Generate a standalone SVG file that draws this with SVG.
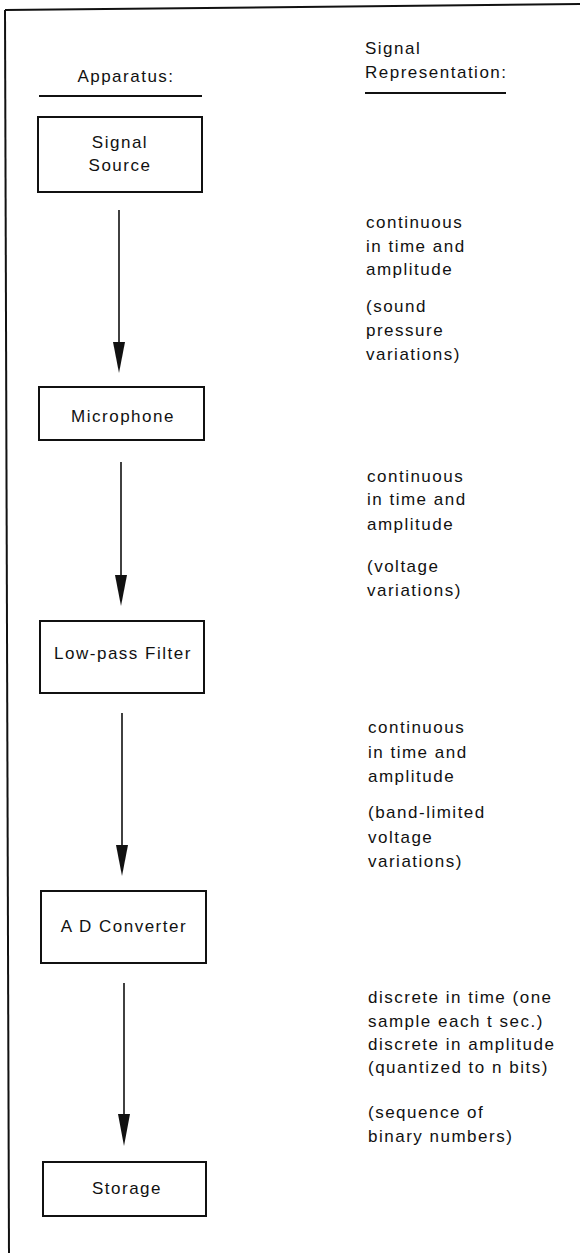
<svg xmlns="http://www.w3.org/2000/svg" width="580" height="1253" viewBox="0 0 580 1253">
<defs>
<style>
text{font-family:"Liberation Sans",Arial,sans-serif;font-size:17px;letter-spacing:1.5px;fill:#111}
.c{text-anchor:middle}
.box{fill:none;stroke:#111;stroke-width:2}
.ln{stroke:#111;stroke-width:2;fill:none}
.sh{stroke:#111;stroke-width:1.6;fill:none}
</style>
<marker id="ah" markerUnits="userSpaceOnUse" markerWidth="14" markerHeight="34" refX="6" refY="32" orient="auto-start-reverse" viewBox="0 0 12 32">
<path d="M0,0 L12,0 L6,32 Z" fill="#111"/>
</marker>
</defs>
<rect width="580" height="1253" fill="#fff"/>
<g id="frame">
<path class="ln" d="M5,10 L580,4"/>
<path class="ln" d="M5,10 L9,1253"/>
</g>
<g id="headers">
<text x="126" y="82" class="c">Apparatus:</text>
<path class="ln" d="M39,96 L202,96"/>
<text x="365" y="54">Signal</text>
<text x="365" y="78">Representation:</text>
<path class="ln" d="M365,93 L506,93"/>
</g>
<g id="signal-source">
<rect class="box" x="38" y="117" width="164" height="75"/>
<text x="120" y="148" class="c">Signal</text>
<text x="120" y="171" class="c">Source</text>
</g>
<g id="microphone">
<rect class="box" x="39" y="387" width="165" height="53"/>
<text x="123" y="422" class="c">Microphone</text>
</g>
<g id="low-pass-filter">
<rect class="box" x="40" y="621" width="164" height="72"/>
<text x="123" y="659" class="c">Low-pass Filter</text>
</g>
<g id="ad-converter">
<rect class="box" x="41" y="891" width="165" height="72"/>
<text x="124" y="932" class="c">A D Converter</text>
</g>
<g id="storage">
<rect class="box" x="43" y="1162" width="163" height="54"/>
<text x="127" y="1194" class="c">Storage</text>
</g>
<g id="connectors">
<path class="sh" d="M119,210 L119,343"/>
<path d="M113,342 L125,342 L119,373 Z" fill="#111"/>
<path class="sh" d="M121,462 L121,576"/>
<path d="M115,575 L127,575 L121,606 Z" fill="#111"/>
<path class="sh" d="M122,713 L122,846"/>
<path d="M116,845 L128,845 L122,876 Z" fill="#111"/>
<path class="sh" d="M124,983 L124,1115"/>
<path d="M118,1114 L130,1114 L124,1146 Z" fill="#111"/>
</g>
<g id="repr-1">
<text x="366" y="228">continuous</text>
<text x="366" y="252">in time and</text>
<text x="366" y="275">amplitude</text>
<text x="366" y="312">(sound</text>
<text x="366" y="336">pressure</text>
<text x="366" y="360">variations)</text>
</g>
<g id="repr-2">
<text x="367" y="482">continuous</text>
<text x="367" y="505">in time and</text>
<text x="367" y="530">amplitude</text>
<text x="367" y="572">(voltage</text>
<text x="367" y="596">variations)</text>
</g>
<g id="repr-3">
<text x="368" y="733">continuous</text>
<text x="368" y="758">in time and</text>
<text x="368" y="782">amplitude</text>
<text x="368" y="818">(band-limited</text>
<text x="368" y="843">voltage</text>
<text x="368" y="867">variations)</text>
</g>
<g id="repr-4">
<text x="368" y="1003">discrete in time (one</text>
<text x="368" y="1027">sample each t sec.)</text>
<text x="368" y="1050">discrete in amplitude</text>
<text x="368" y="1073">(quantized to n bits)</text>
<text x="368" y="1118">(sequence of</text>
<text x="368" y="1142">binary numbers)</text>
</g>
</svg>
